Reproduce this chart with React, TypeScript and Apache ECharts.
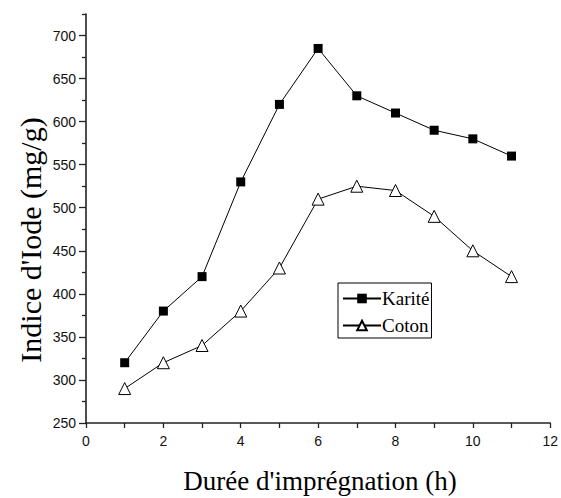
import React, { useEffect, useRef } from "react";
import * as echarts from "echarts";

// Durée d'imprégnation (h)
const hours = [1, 2, 3, 4, 5, 6, 7, 8, 9, 10, 11];
// Indice d'iode (mg/g)
const karite = [320, 380, 420, 530, 620, 685, 630, 610, 590, 580, 560];
const coton = [290, 320, 340, 380, 430, 510, 525, 520, 490, 450, 420];

const yMajorTicks = [250, 300, 350, 400, 450, 500, 550, 600, 650, 700];
const yMinorTicks = [275, 325, 375, 425, 475, 525, 575, 625, 675, 725];

const SERIF = "'Liberation Serif', 'Times New Roman', serif";
const SANS = "'Liberation Sans', Arial, sans-serif";

export default function App() {
  const ref = useRef<HTMLDivElement>(null);

  useEffect(() => {
    if (!ref.current) return;
    const chart = echarts.init(ref.current, undefined, { renderer: "svg" });

    const pair = (ys: number[]) => hours.map((h, i) => [h, ys[i]]);

    chart.setOption({
      animation: false,
      backgroundColor: "#fff",
      grid: { left: 86, right: 9, top: 14, bottom: 75 },
      xAxis: {
        type: "value",
        min: 0,
        max: 12,
        interval: 2,
        axisLine: { lineStyle: { color: "#222", width: 1.6 } },
        axisTick: { length: 5, lineStyle: { color: "#222", width: 1.3 } },
        minorTick: { show: true, splitNumber: 2, length: 5, lineStyle: { color: "#222", width: 1.3 } },
        axisLabel: { margin: 11, fontSize: 14, color: "#111", fontFamily: SANS },
        splitLine: { show: false },
      },
      yAxis: [
        {
          type: "value",
          min: 250,
          max: 725,
          position: "left",
          axisLine: { show: true, lineStyle: { color: "#222", width: 1.6 } },
          axisTick: { show: true, length: 7, customValues: yMajorTicks, lineStyle: { color: "#222", width: 1.3 } },
          axisLabel: { customValues: yMajorTicks, margin: 10, fontSize: 14, color: "#111", fontFamily: SANS },
          splitLine: { show: false },
        },
        {
          type: "value",
          min: 250,
          max: 725,
          position: "left",
          axisLine: { show: false },
          axisTick: { show: true, length: 4, customValues: yMinorTicks, lineStyle: { color: "#222", width: 1.3 } },
          axisLabel: { show: false },
          splitLine: { show: false },
        },
      ],
      legend: {
        orient: "vertical",
        left: 338,
        top: 283,
        padding: [6, 2, 3, 4],
        itemGap: 8,
        itemWidth: 38,
        itemHeight: 12,
        borderColor: "#000",
        borderWidth: 1,
        borderRadius: 0,
        textStyle: { fontFamily: SERIF, fontSize: 19, color: "#000", padding: [0, 0, 0, -4] },
        data: ["Karité", "Coton"],
      },
      series: [
        {
          name: "Karité",
          type: "line",
          data: pair(karite),
          symbol: "rect",
          symbolSize: 9,
          lineStyle: { color: "#000", width: 1 },
          itemStyle: { color: "#000", borderColor: "#000", borderWidth: 0 },
        },
        {
          name: "Coton",
          type: "line",
          data: pair(coton),
          symbol: "triangle",
          symbolSize: 12,
          lineStyle: { color: "#000", width: 1 },
          itemStyle: { color: "#fff", borderColor: "#000", borderWidth: 1 },
        },
      ],
      graphic: [
        {
          type: "text",
          x: 30,
          y: 240,
          rotation: Math.PI / 2,
          style: {
            text: "Indice d'Iode (mg/g)",
            font: `30px ${SERIF}`,
            fill: "#000",
            textAlign: "center",
            textVerticalAlign: "middle",
          },
        },
        {
          type: "text",
          x: 320,
          y: 481,
          style: {
            text: "Durée d'imprégnation (h)",
            font: `27px ${SERIF}`,
            fill: "#000",
            textAlign: "center",
            textVerticalAlign: "middle",
          },
        },
      ],
    });

    return () => chart.dispose();
  }, []);

  return (
    <div
      ref={ref}
      style={{ position: "fixed", left: 0, top: 0, width: 561, height: 498 }}
    />
  );
}
